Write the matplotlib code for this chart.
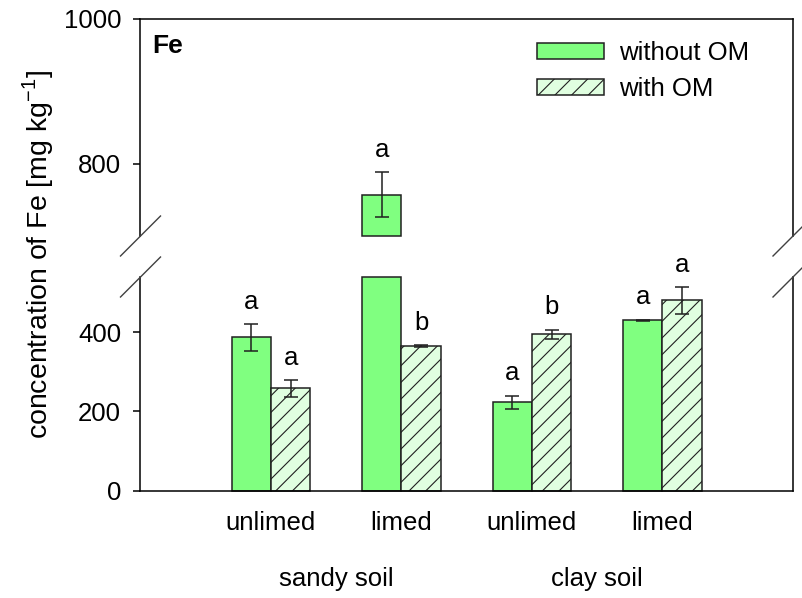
import numpy as np
import matplotlib
matplotlib.use("Agg")
import matplotlib.pyplot as plt
from matplotlib.lines import Line2D

plt.rcParams['font.family'] = ['Liberation Sans', 'DejaVu Sans']
plt.rcParams['hatch.linewidth'] = 0.8
plt.rcParams['hatch.color'] = '#202020'

# ---- data ----
soil_types = ["sandy soil", "clay soil"]
liming = ["unlimed", "limed", "unlimed", "limed"]
series_names = ["without OM", "with OM"]
without_om = [387, 757, 223, 430]
without_om_err = [34, 31, 17, 2]
with_om = [258, 365, 395, 481]
with_om_err = [21, 3, 12, 34]
letters_without = ["a", "a", "a", "a"]
letters_with = ["a", "b", "b", "a"]

# axis ranges (broken axis)
lower_range = (0, 540)
upper_range = (700, 1000)
lower_ticks = [0, 200, 400]
upper_ticks = [800, 1000]

# ---- styling ----
W, H = 803, 598
fig = plt.figure(figsize=(W / 100, H / 100), dpi=100)
x_left, x_right = 140.5, 793
lo_bot_px, lo_top_px = 490.5, 277
up_bot_px, up_top_px = 236, 19

def fbox(l, r, b, t):
    return [l / W, 1 - b / H, (r - l) / W, (b - t) / H]

ax_lo = fig.add_axes(fbox(x_left, x_right, lo_bot_px, lo_top_px))
ax_up = fig.add_axes(fbox(x_left, x_right, up_bot_px, up_top_px))

c_without = '#80FF80'
c_with = '#E0FFE0'
FS = 18.5
lw = 1.1
bw = 0.3
pos = np.arange(1, len(liming) + 1)

for ax in (ax_lo, ax_up):
    ax.set_xlim(0, 5)
    for s in ax.spines.values():
        s.set_linewidth(lw)
    ax.tick_params(axis='y', direction='out', length=5, width=lw,
                   labelsize=FS, pad=9, right=False)
    ax.set_facecolor('none')

ax_lo.set_ylim(*lower_range)
ax_up.set_ylim(*upper_range)
ax_lo.set_yticks(lower_ticks)
ax_up.set_yticks(upper_ticks)
ax_lo.spines['top'].set_visible(False)
ax_up.spines['bottom'].set_visible(False)
ax_up.set_xticks([])
ax_lo.set_xticks(pos, liming)
ax_lo.tick_params(axis='x', length=0, labelsize=FS, pad=15)

wo = np.array(without_om, dtype=float)
wi = np.array(with_om, dtype=float)
wo_e = np.array(without_om_err, dtype=float)
wi_e = np.array(with_om_err, dtype=float)

series = [
    (pos - bw / 2, wo, wo_e, c_without, None, letters_without, series_names[0]),
    (pos + bw / 2, wi, wi_e, c_with, '//', letters_with, series_names[1]),
]

handles = []
for xs, vals, errs, col, hatch, letters, name in series:
    # lower part
    h_lo = np.minimum(vals, lower_range[1])
    bars = ax_lo.bar(xs, h_lo, width=bw, color=col, edgecolor='#202020',
                     linewidth=lw, hatch=hatch, label=name, zorder=2)
    for b in bars:
        b.set_clip_on(False)
    handles.append(bars)
    # upper part for values exceeding break
    mask = vals > upper_range[0]
    if mask.any():
        ub = ax_up.bar(xs[mask], vals[mask] - upper_range[0], bottom=upper_range[0],
                       width=bw, color=col, edgecolor='#202020', linewidth=lw,
                       hatch=hatch, zorder=2)
        for b in ub:
            b.set_clip_on(False)
    for x, v, e, let in zip(xs, vals, errs, letters):
        ax = ax_up if v > upper_range[0] else ax_lo
        ax.errorbar(x, v, yerr=e, fmt='none', ecolor='#202020', elinewidth=1.1,
                    capsize=4.7, capthick=1.1, zorder=3)
        ax.annotate(let, (x, v + e), xytext=(0, 11), textcoords='offset points',
                    ha='center', va='baseline', fontsize=FS)

# group labels
for i, g in enumerate(soil_types):
    gx = pos[2 * i:2 * i + 2].mean()
    ax_lo.annotate(g, (gx, 0), xycoords=('data', 'axes fraction'),
                   xytext=(0, -64), textcoords='offset points',
                   ha='center', va='center', fontsize=FS)

# y label
fig.text(38 / W, 1 - 254 / H, 'concentration of Fe [mg kg$^{\\mathregular{-1}}$]',
         rotation=90, ha='center', va='center', fontsize=20.5)

# panel label
ax_up.text(0.018, 0.875, 'Fe', transform=ax_up.transAxes, fontsize=19,
           fontweight='bold', ha='left', va='center')

# legend
leg = ax_up.legend(handles, series_names, loc='upper left',
                   bbox_to_anchor=((537 - x_left) / (x_right - x_left), (236 - 41) / 217),
                   frameon=False, fontsize=FS, handlelength=2.6, handleheight=0.55,
                   handletextpad=0.6, labelspacing=0.47, borderpad=0, borderaxespad=0)

# break marks
dx, dy = 20 / W, 20 / H
for xp in (x_left, x_right):
    for yp in (up_bot_px, lo_top_px):
        xc, yc = xp / W, 1 - yp / H
        fig.add_artist(Line2D([xc - dx, xc + dx], [yc - dy, yc + dy],
                              transform=fig.transFigure, color='#404040', lw=1.0))

fig.savefig('out.png', dpi=100)
